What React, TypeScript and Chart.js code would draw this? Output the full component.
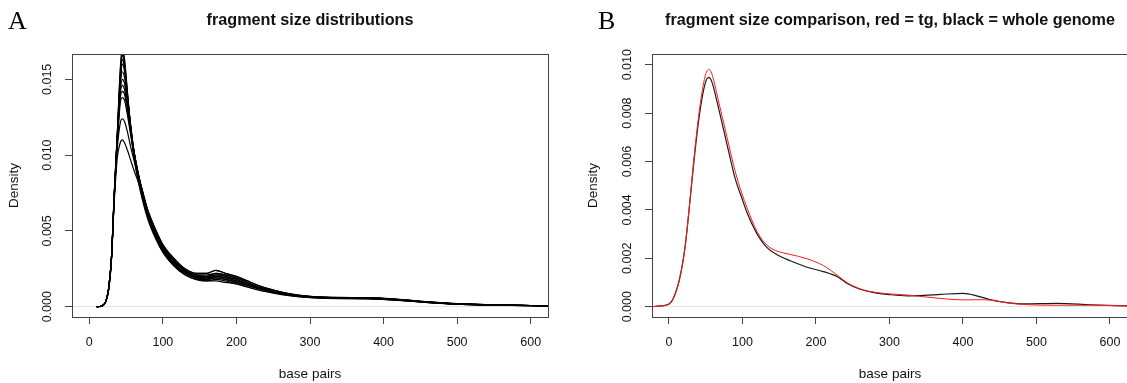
import React, { useEffect, useRef } from "react";
import { Chart, registerables } from "chart.js";

Chart.register(...registerables);
Chart.defaults.font.family = "'Liberation Sans', Arial, Helvetica, sans-serif";

// ---------- Panel A: fragment size distributions (many samples) ----------
const xA = [10, 16, 22, 26, 30, 34, 38, 42, 45, 48, 52, 56, 60, 66, 72, 80, 90, 100, 115, 130, 145, 160, 172, 185, 200, 215, 230, 250, 270, 300, 340, 380, 420, 460, 500, 550, 600, 630];

const sampleA1 = [0, 0.00002, 0.0003, 0.0010, 0.0031, 0.0076, 0.0114, 0.0156, 0.0172, 0.0163, 0.0141, 0.0119, 0.0101, 0.0084, 0.0071, 0.0057, 0.0045, 0.0036, 0.0027, 0.0021, 0.0018, 0.0017, 0.0017, 0.0016, 0.0015, 0.0013, 0.0011, 0.00090, 0.00074, 0.00060, 0.00053, 0.00052, 0.00042, 0.00027, 0.00016, 0.00010, 0.00006, 0.00004];
const sampleA2 = [0, 0.00002, 0.0003, 0.0010, 0.0030, 0.0075, 0.0113, 0.0154, 0.0169, 0.0161, 0.0140, 0.0119, 0.0102, 0.0085, 0.0072, 0.0058, 0.0046, 0.0036, 0.0027, 0.0021, 0.0018, 0.0017, 0.0018, 0.0017, 0.0015, 0.0013, 0.0011, 0.00092, 0.00075, 0.00061, 0.00054, 0.00053, 0.00043, 0.00028, 0.00017, 0.00011, 0.00007, 0.00005];
const sampleA3 = [0, 0.00003, 0.0003, 0.0010, 0.0030, 0.0074, 0.0112, 0.0150, 0.0166, 0.0158, 0.0138, 0.0118, 0.0102, 0.0086, 0.0073, 0.0059, 0.0047, 0.0037, 0.0028, 0.0022, 0.0019, 0.0018, 0.0019, 0.0018, 0.0016, 0.0014, 0.0012, 0.00095, 0.00078, 0.00062, 0.00055, 0.00053, 0.00043, 0.00028, 0.00017, 0.00011, 0.00007, 0.00005];
const sampleA4 = [0, 0.00003, 0.0003, 0.0011, 0.0031, 0.0075, 0.0112, 0.0149, 0.0163, 0.0157, 0.0139, 0.0120, 0.0104, 0.0087, 0.0074, 0.0059, 0.0047, 0.0037, 0.0028, 0.0022, 0.0019, 0.0018, 0.0019, 0.0018, 0.0016, 0.0014, 0.0012, 0.00096, 0.00079, 0.00063, 0.00056, 0.00054, 0.00044, 0.00029, 0.00018, 0.00011, 0.00007, 0.00005];
const sampleA5 = [0, 0.00003, 0.0003, 0.0011, 0.0031, 0.0074, 0.0111, 0.0147, 0.0160, 0.0155, 0.0138, 0.0121, 0.0105, 0.0088, 0.0074, 0.0060, 0.0048, 0.0038, 0.0029, 0.0023, 0.0019, 0.0018, 0.0020, 0.0019, 0.0017, 0.0014, 0.0012, 0.00097, 0.00080, 0.00064, 0.00056, 0.00055, 0.00045, 0.00029, 0.00018, 0.00012, 0.00008, 0.00005];
const sampleA6 = [0, 0.00003, 0.0003, 0.0011, 0.0031, 0.0074, 0.0111, 0.0145, 0.0155, 0.0151, 0.0136, 0.0120, 0.0105, 0.0089, 0.0075, 0.0060, 0.0048, 0.0038, 0.0029, 0.0023, 0.0020, 0.0019, 0.0020, 0.0019, 0.0017, 0.0015, 0.0012, 0.00098, 0.00080, 0.00064, 0.00057, 0.00055, 0.00045, 0.00030, 0.00018, 0.00012, 0.00008, 0.00005];
const sampleA7 = [0, 0.00003, 0.0003, 0.0011, 0.0031, 0.0074, 0.0110, 0.0142, 0.0150, 0.0147, 0.0134, 0.0119, 0.0105, 0.0089, 0.0076, 0.0061, 0.0049, 0.0039, 0.0030, 0.0023, 0.0020, 0.0019, 0.0021, 0.0020, 0.0018, 0.0015, 0.0013, 0.0010, 0.00082, 0.00065, 0.00057, 0.00056, 0.00046, 0.00030, 0.00019, 0.00012, 0.00008, 0.00005];
const sampleA8 = [0, 0.00003, 0.0003, 0.0011, 0.0031, 0.0073, 0.0109, 0.0140, 0.0146, 0.0143, 0.0131, 0.0117, 0.0104, 0.0089, 0.0076, 0.0061, 0.0049, 0.0039, 0.0030, 0.0024, 0.0020, 0.0020, 0.0021, 0.0020, 0.0018, 0.0015, 0.0013, 0.0010, 0.00082, 0.00065, 0.00058, 0.00056, 0.00046, 0.00030, 0.00019, 0.00012, 0.00008, 0.00005];
const sampleA9 = [0, 0.00003, 0.0003, 0.0011, 0.0031, 0.0073, 0.0108, 0.0137, 0.0142, 0.0140, 0.0129, 0.0116, 0.0104, 0.0089, 0.0076, 0.0062, 0.0050, 0.0040, 0.0030, 0.0024, 0.0021, 0.0020, 0.0022, 0.0021, 0.0019, 0.0016, 0.0013, 0.0010, 0.00083, 0.00066, 0.00058, 0.00057, 0.00047, 0.00031, 0.00019, 0.00012, 0.00008, 0.00005];
const sampleA10 = [0, 0.00003, 0.0003, 0.0011, 0.0031, 0.0073, 0.0107, 0.0134, 0.0138, 0.0136, 0.0126, 0.0114, 0.0103, 0.0089, 0.0077, 0.0062, 0.0050, 0.0040, 0.0031, 0.0024, 0.0021, 0.0021, 0.0022, 0.0021, 0.0019, 0.0016, 0.0013, 0.0011, 0.00085, 0.00067, 0.00059, 0.00058, 0.00047, 0.00031, 0.00019, 0.00012, 0.00008, 0.00005];
const sampleA11 = [0, 0.00003, 0.0003, 0.0011, 0.0031, 0.0072, 0.0104, 0.0121, 0.0124, 0.0122, 0.0115, 0.0106, 0.0098, 0.0087, 0.0077, 0.0063, 0.0051, 0.0041, 0.0031, 0.0025, 0.0022, 0.0022, 0.0024, 0.0022, 0.0020, 0.0017, 0.0014, 0.0011, 0.00087, 0.00068, 0.00060, 0.00059, 0.00048, 0.00032, 0.00020, 0.00013, 0.00008, 0.00005];
const sampleA12 = [0, 0.00003, 0.0003, 0.0011, 0.0030, 0.0070, 0.0098, 0.0108, 0.0110, 0.0108, 0.0103, 0.0097, 0.0091, 0.0083, 0.0075, 0.0063, 0.0051, 0.0041, 0.0032, 0.0025, 0.0022, 0.0022, 0.0024, 0.0022, 0.0020, 0.0017, 0.0014, 0.0011, 0.00088, 0.00069, 0.00061, 0.00060, 0.00049, 0.00032, 0.00020, 0.00013, 0.00008, 0.00005];

const samplesA = [sampleA1, sampleA2, sampleA3, sampleA4, sampleA5, sampleA6, sampleA7, sampleA8, sampleA9, sampleA10, sampleA11, sampleA12];

// ---------- Panel B: tg (red) vs whole genome (black) ----------
const xB = [-24, -12, 0, 6, 15, 22, 29, 35, 42, 49, 54, 58, 67, 79, 90, 99, 106, 120, 133, 147, 165, 188, 210, 229, 242, 260, 279, 300, 324, 347, 370, 400, 420, 438, 460, 483, 528, 574, 625];
const wholeGenome = [0, 0.00003, 0.00011, 0.00035, 0.00124, 0.00250, 0.00450, 0.00630, 0.00805, 0.00920, 0.00948, 0.00932, 0.00826, 0.00670, 0.00530, 0.00450, 0.00390, 0.00300, 0.00245, 0.00215, 0.00190, 0.00163, 0.00145, 0.00124, 0.00097, 0.00072, 0.00058, 0.00050, 0.00045, 0.00047, 0.00051, 0.00055, 0.00044, 0.00028, 0.00017, 0.00012, 0.00014, 0.00008, 0.00003];
const tg = [0, 0.00003, 0.00010, 0.00033, 0.00120, 0.00248, 0.00455, 0.00645, 0.00825, 0.00950, 0.00981, 0.00965, 0.00855, 0.00700, 0.00560, 0.00470, 0.00410, 0.00310, 0.00255, 0.00230, 0.00216, 0.00198, 0.00170, 0.00130, 0.00100, 0.00074, 0.00060, 0.00053, 0.00048, 0.00041, 0.00034, 0.00028, 0.00029, 0.00027, 0.00016, 0.00009, 0.00006, 0.00006, 0.00003];

// ---------- ticks ----------
const xTicks = [0, 100, 200, 300, 400, 500, 600];
const yTicksA = [0, 0.005, 0.01, 0.015];
const yTicksB = [0, 0.002, 0.004, 0.006, 0.008, 0.01];

const titleA = "fragment size distributions";
const titleB = "fragment size comparison, red = tg, black = whole genome";
const xLabel = "base pairs";
const yLabel = "Density";

const H = 383;
const TEXT = "#111";
const AXIS = "#444";
const TITLE_SIZE = 16.2;
const LABEL_SIZE = 13.5;
const TICK_SIZE = 12.5;

const boxPlugin = {
  id: "rbox",
  afterDatasetsDraw(chart: any) {
    const { ctx, chartArea: a } = chart;
    ctx.save();
    ctx.strokeStyle = AXIS;
    ctx.lineWidth = 1;
    ctx.strokeRect(Math.round(a.left) + 0.5, Math.round(a.top) + 0.5, Math.round(a.right - a.left), Math.round(a.bottom - a.top));
    ctx.restore();
  },
};

type PanelCfg = {
  canvasW: number;
  areaLeft: number;
  areaRight: number;
  xMin: number;
  xMax: number;
  yMin: number;
  yMax: number;
  yTicks: number[];
  yTickPad: number;
  yTitlePad: number;
  title: string;
  datasets: any[];
};

const AREA_TOP = 54;
const AREA_BOTTOM = 317;
const TITLE_PAD_TOP = 11.2;

function buildConfig(p: PanelCfg): any {
  return {
    type: "line",
    data: { datasets: p.datasets },
    plugins: [boxPlugin],
    options: {
      responsive: false,
      maintainAspectRatio: false,
      animation: false,
      events: [],
      devicePixelRatio: 1,
      layout: { padding: { left: 0, top: 0, bottom: 0, right: p.canvasW - p.areaRight } },
      elements: { point: { radius: 0 } },
      plugins: {
        legend: { display: false },
        tooltip: { enabled: false },
        title: {
          display: true,
          text: p.title,
          fullSize: false,
          color: TEXT,
          font: { size: TITLE_SIZE, weight: "bold", lineHeight: 1.2 },
          padding: { top: TITLE_PAD_TOP, bottom: AREA_TOP - TITLE_SIZE * 1.2 - TITLE_PAD_TOP },
        },
      },
      scales: {
        x: {
          type: "linear",
          min: p.xMin,
          max: p.xMax,
          afterFit: (s: any) => {
            s.height = H - AREA_BOTTOM;
          },
          afterBuildTicks: (s: any) => {
            s.ticks = xTicks.map((v) => ({ value: v }));
          },
          ticks: {
            padding: 10.9,
            color: TEXT,
            font: { size: TICK_SIZE, lineHeight: 1.2 },
            autoSkip: false,
            maxRotation: 0,
            callback: (v: any) => String(v),
          },
          grid: { drawOnChartArea: false, drawTicks: true, tickLength: 7, tickColor: AXIS, tickWidth: 1 },
          border: { display: false },
          title: { display: true, text: xLabel, color: TEXT, font: { size: LABEL_SIZE, lineHeight: 1.2 }, padding: { top: 0, bottom: 0.3 } },
        },
        y: {
          type: "linear",
          min: p.yMin,
          max: p.yMax,
          afterFit: (s: any) => {
            s.width = p.areaLeft;
          },
          afterBuildTicks: (s: any) => {
            s.ticks = p.yTicks.map((v) => ({ value: v }));
          },
          ticks: {
            minRotation: 90,
            maxRotation: 90,
            crossAlign: "center",
            padding: p.yTickPad,
            color: TEXT,
            font: { size: TICK_SIZE, lineHeight: 1.2 },
            autoSkip: false,
            callback: (v: any) => Number(v).toFixed(3),
          },
          grid: {
            drawOnChartArea: true,
            color: (c: any) => (c.tick && Math.abs(c.tick.value) < 1e-12 ? "#e2e2e2" : "rgba(0,0,0,0)"),
            lineWidth: 1,
            tickLength: 7,
            tickColor: AXIS,
            tickWidth: 1,
          },
          border: { display: false },
          title: { display: true, text: yLabel, color: TEXT, font: { size: LABEL_SIZE, lineHeight: 1.2 }, padding: { top: p.yTitlePad, bottom: 0 } },
        },
      },
    },
  };
}

function toPoints(xs: number[], ys: number[]) {
  return xs.map((x, i) => ({ x, y: ys[i] }));
}

const lineStyle = { pointRadius: 0, cubicInterpolationMode: "monotone", fill: false };

function Panel({ left, cfg }: { left: number; cfg: PanelCfg }) {
  const ref = useRef<HTMLCanvasElement>(null);
  useEffect(() => {
    const chart = new Chart(ref.current as HTMLCanvasElement, buildConfig(cfg));
    return () => chart.destroy();
  }, []);
  return (
    <canvas
      ref={ref}
      width={cfg.canvasW}
      height={H}
      style={{ position: "absolute", left, top: 0, width: cfg.canvasW, height: H }}
    />
  );
}

const cfgA: PanelCfg = {
  canvasW: 563,
  areaLeft: 72,
  areaRight: 548,
  xMin: -23.5,
  xMax: 623.5,
  yMin: -0.00068,
  yMax: 0.01667,
  yTicks: yTicksA,
  yTickPad: 1.6,
  yTitlePad: 6.0,
  title: titleA,
  datasets: samplesA.map((s) => ({
    ...lineStyle,
    data: toPoints(xA, s),
    borderColor: "#000",
    borderWidth: 1.2,
  })),
};

const cfgB: PanelCfg = {
  canvasW: 580,
  areaLeft: 89,
  areaRight: 565,
  xMin: -23.1,
  xMax: 624.5,
  yMin: -0.000426,
  yMax: 0.010442,
  yTicks: yTicksB,
  yTickPad: 2.2,
  yTitlePad: 22.4,
  title: titleB,
  datasets: [
    { ...lineStyle, label: "tg", data: toPoints(xB, tg), borderColor: "#ff1a1a", borderWidth: 1 },
    { ...lineStyle, label: "whole genome", data: toPoints(xB, wholeGenome), borderColor: "#1a1a1a", borderWidth: 1.2 },
  ],
};

const letterStyle: React.CSSProperties = {
  position: "absolute",
  top: 7.5,
  fontFamily: "'Liberation Serif', 'DejaVu Serif', 'Times New Roman', serif",
  fontSize: 26,
  lineHeight: "26px",
  color: "#000",
};

export default function App() {
  return (
    <div
      style={{
        position: "fixed",
        left: 0,
        top: 0,
        width: 1127,
        height: H,
        overflow: "hidden",
        background: "#fff",
      }}
    >
      <Panel left={0} cfg={cfgA} />
      <Panel left={563} cfg={cfgB} />
      <div style={{ ...letterStyle, left: 8 }}>A</div>
      <div style={{ ...letterStyle, left: 598 }}>B</div>
    </div>
  );
}
